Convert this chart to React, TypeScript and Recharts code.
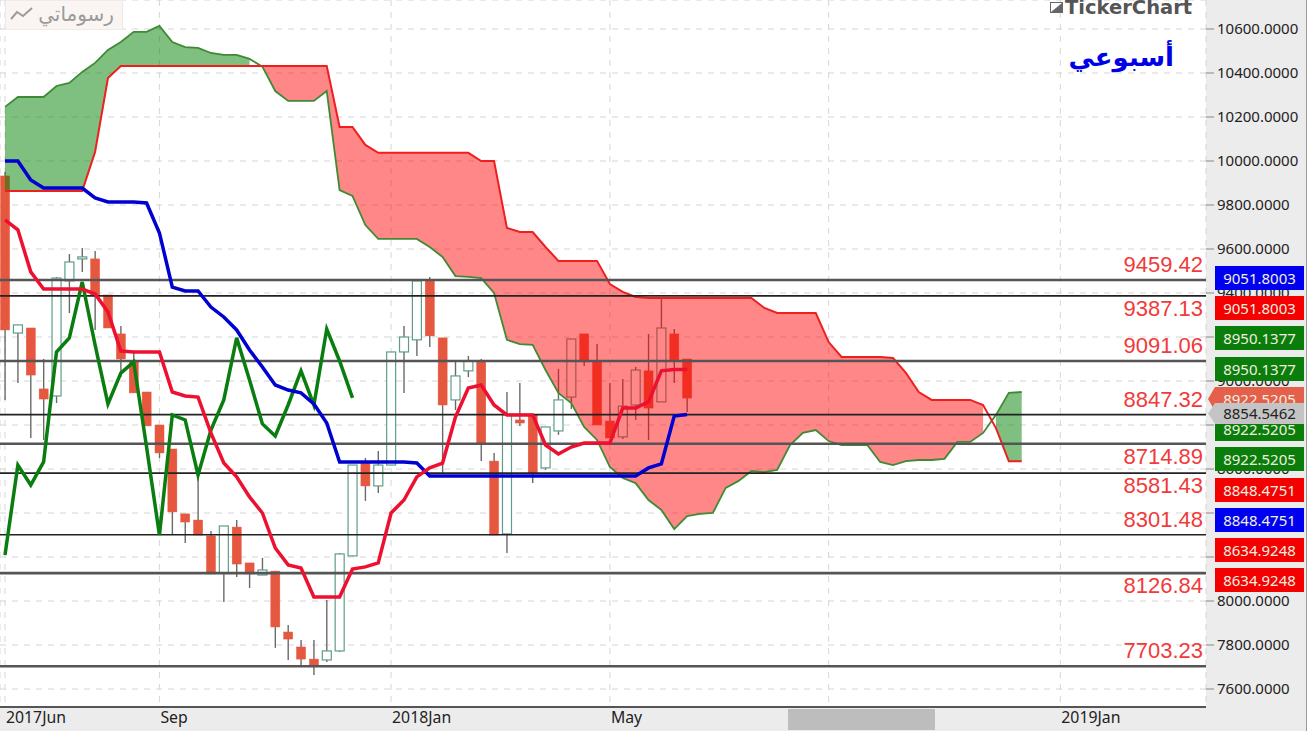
import React from "react";
import {
  ComposedChart, XAxis, YAxis, CartesianGrid, Bar, Area, Line, ReferenceLine,
} from "recharts";

const candleOpen = [9932,9218,9241,8964,8932,9455,9555,9555,9391,9214,9091,8950,8800,8691,8396,8368,8296,8127,8336,8173,8118,8136,7859,7791,7736,7732,7773,8205,8627,8523,8618,9132,9187,9455,9196,8914,9046,9087,8636,8305,8823,8846,8605,8773,8927,9214,9087,8818,8746,8891,9046,8905,9214,9100];
const candleClose = [9232,9255,9027,8918,9468,9541,9564,9391,9241,9100,8946,8796,8673,8405,8359,8300,8123,8341,8168,8123,8141,7882,7827,7736,7709,7773,8214,8618,8523,8618,9132,9200,9455,9205,8891,9023,9091,8718,8300,8846,8809,8582,8791,8914,9191,9087,8800,8741,8886,9050,8877,9241,9096,8922.5];
const candleHigh = [9950,9255,9241,9100,9473,9577,9605,9591,9391,9250,9127,8950,8800,8691,8396,8573,8318,8341,8368,8173,8196,8136,7891,7823,7823,8005,8218,8618,8650,8682,9132,9250,9455,9473,9196,9087,9114,9100,8673,8950,8991,8846,8791,9055,9191,9214,9168,8991,9009,9064,9214,9377,9236,9100];
const candleLow = [8914,8991,8741,8732,8900,9309,9496,9232,9241,9018,8946,8796,8650,8300,8264,8300,8123,7996,8109,8059,8118,7787,7732,7700,7664,7723,7768,8205,8455,8491,8618,8946,9114,9155,8582,8868,9018,8636,8300,8218,8796,8536,8596,8755,8873,9068,8800,8741,8736,8823,8732,8905,8991,8859];

const kijun = [10000,10000,9914,9877,9877,9877,9877,9832,9814,9814,9814,9809,9673,9427,9409,9409,9336,9291,9232,9141,9064,8982,8959,8946,8896,8809,8632,8632,8632,8632,8632,8632,8627,8568,8568,8568,8568,8568,8568,8568,8568,8568,8568,8568,8568,8568,8568,8568,8568,8568,8605,8623,8841,8848];
const tenkan = [9732,9687,9496,9418,9418,9418,9418,9396,9314,9136,9132,9132,9132,8950,8932,8927,8764,8627,8564,8473,8400,8241,8164,8150,8018,8018,8018,8145,8155,8173,8400,8459,8564,8605,8627,8836,8968,8982,8891,8846,8846,8846,8709,8668,8700,8718,8718,8718,8877,8877,8905,9046,9052,9052];
const chikou = [8209,8618,8527,8632,9132,9196,9450,9164,8896,9036,9087,8700,8300,8846,8823,8573,8777,8914,9196,9005,8805,8750,8891,9046,8891,9236,9091,8923];

const spanGreen = [10246,10291,10291,10291,10341,10355,10405,10446,10505,10541,10587,10587,10614,10541,10518,10514,10491,10482,10482,10464,10429,10318,10273,10273,10273,10318,9868,9841,9709,9646,9646,9646,9646,9609,9564,9477,9473,9468,9400,9187,9168,9164,9050,8946,8900,8791,8732,8609,8559,8536,8459,8414,8327,8386,8396,8400,8514,8546,8591,8586,8596,8709,8764,8777,8727,8709,8709,8709,8632,8618,8636,8641,8641,8646,8723,8723,8764,8846,8946,8950];
const spanRed = [9864,9864,9864,9864,9864,9864,9864,10041,10377,10432,10432,10432,10432,10432,10432,10432,10432,10432,10432,10432,10432,10432,10432,10432,10432,10432,10155,10155,10073,10037,10037,10037,10037,10037,10037,10037,10037,10000,10000,9696,9677,9677,9609,9546,9546,9546,9546,9441,9405,9382,9377,9377,9377,9377,9377,9377,9377,9377,9377,9332,9309,9309,9309,9309,9177,9109,9109,9109,9109,9105,9037,8950,8914,8914,8914,8914,8891,8786,8635,8635];

const levels = [9459.42,9387.13,9091.06,8847.32,8714.89,8581.43,8301.48,8126.84,7703.23];
const levelText = ["9459.42","9387.13","9091.06","8847.32","8714.89","8581.43","8301.48","8126.84","7703.23"];
const levelBelow = [false,true,false,false,true,true,false,true,false];
const levelHeavy = [true,false,true,false,true,false,false,true,true];

const yTicks = [7600,7800,8000,8200,8400,8600,8800,9000,9200,9400,9600,9800,10000,10200,10400,10600];
const xTicks = [0,12,30,47,64,82];
const xTickLabels = ["2017Jun","Sep","2018Jan","May","","2019Jan"];

const badgeText = ["9051.8003","9051.8003","8950.1377","8950.1377","8922.5205","8922.5205","8854.5462","8922.5205","8848.4751","8848.4751","8634.9248","8634.9248"];
const badgeTop = [266,296,326,357,387,417,403,447,478,508,538,568];
const badgeColor = ["#0000f0","#f50000","#0a7d0a","#0a7d0a","#e5604a","#0a7d0a","#c4c4c4","#0a7d0a","#f50000","#0000f0","#f50000","#f50000"];

const rows = spanGreen.map((g, i) => {
  const r = spanRed[i];
  const hasCandle = i < candleOpen.length;
  const greenSide = i < 20 || i > 76;
  return {
    i,
    open: hasCandle ? candleOpen[i] : null,
    close: hasCandle ? candleClose[i] : null,
    high: hasCandle ? candleHigh[i] : null,
    low: hasCandle ? candleLow[i] : null,
    range: hasCandle ? [candleLow[i], candleHigh[i]] : null,
    kijun: i < kijun.length ? kijun[i] : null,
    tenkan: i < tenkan.length ? tenkan[i] : null,
    chikou: i < chikou.length ? chikou[i] : null,
    spanGreen: g,
    spanRed: r,
    greenBand: greenSide ? [Math.min(g, r), Math.max(g, r)] : null,
    redBand: !greenSide ? [Math.min(g, r), Math.max(g, r)] : null,
  };
});

const Candle = (props: any) => {
  const { x, y, width, height, payload } = props;
  if (!payload || payload.open == null || !Number.isFinite(y)) return null;
  const k = height / (payload.high - payload.low);
  const top = Math.max(payload.open, payload.close);
  const bottom = Math.min(payload.open, payload.close);
  const yTop = y + (payload.high - top) * k;
  const h = Math.max((top - bottom) * k, 2);
  const up = payload.close >= payload.open;
  const cx = x + width / 2;
  return (
    <g>
      <line x1={cx} x2={cx} y1={y} y2={y + height} stroke="#6a6a6a" strokeWidth={1.4} />
      <rect
        x={x}
        y={yTop}
        width={width}
        height={h}
        fill={up ? "#ffffff" : "#e5583f"}
        stroke={up ? "#5f9d8a" : "#e5583f"}
        strokeWidth={up ? 1.2 : 0.5}
      />
    </g>
  );
};

const levelLabel = (idx: number) => (p: any) => {
  const vb = p.viewBox;
  return (
    <text
      x={vb.x + vb.width - 3}
      y={vb.y + (levelBelow[idx] ? 20 : -8)}
      textAnchor="end"
      fill="#f23a3a"
      fontFamily="Liberation Sans"
      fontSize={22}
    >
      {levelText[idx]}
    </text>
  );
};

const XTick = (p: any) => {
  const idx = xTicks.indexOf(p.payload.value);
  return (
    <text x={p.x + 1} y={p.y + 8} textAnchor="start" fill="#222" fontFamily="Noto Sans" fontSize={15.8}>
      {xTickLabels[idx]}
    </text>
  );
};

const badgeBase: React.CSSProperties = {
  position: "absolute",
  left: 1215,
  width: 89,
  height: 24,
  lineHeight: "24px",
  textAlign: "center",
  fontFamily: "Noto Sans",
  fontSize: 15,
};

export default function App() {
  return (
    <div style={{ position: "absolute", left: 0, top: 0, width: 1309, height: 731, background: "#ececec", overflow: "hidden" }}>
      <ComposedChart
        width={1306}
        height={731}
        data={rows}
        margin={{ top: 0, right: 0, bottom: 0, left: 0 }}
      >
        <CartesianGrid stroke="#d6d6d6" strokeDasharray="6 6" fill="#ffffff" />
        <XAxis
          dataKey="i"
          type="number"
          domain={[-0.3885, 93.32]}
          ticks={xTicks}
          tick={<XTick />}
          height={24}
          tickLine={false}
          interval={0}
          allowDataOverflow
          axisLine={{ stroke: "#555", strokeWidth: 2 }}
        />
        <YAxis
          orientation="right"
          type="number"
          width={100}
          domain={[7518.2, 10731.8]}
          ticks={yTicks}
          allowDataOverflow
          interval={0}
          axisLine={false}
          tickSize={8}
          tickMargin={3}
          tickLine={{ stroke: "#888" }}
          tickFormatter={(v: number) => v.toFixed(4)}
          tick={{ fill: "#222", fontFamily: "Noto Sans", fontSize: 15 }}
        />
        <Bar dataKey="range" barSize={9} shape={<Candle />} isAnimationActive={false} />
        <Area dataKey="greenBand" type="linear" fill="#008000" fillOpacity={0.5} stroke="none" isAnimationActive={false} dot={false} activeDot={false} zIndex={350} />
        <Area dataKey="redBand" type="linear" fill="#ff0000" fillOpacity={0.47} stroke="none" isAnimationActive={false} dot={false} activeDot={false} zIndex={350} />
        <Line dataKey="spanGreen" type="linear" stroke="#3f8a35" strokeWidth={1.8} dot={false} activeDot={false} isAnimationActive={false} />
        <Line dataKey="spanRed" type="linear" stroke="#f01f1f" strokeWidth={2} dot={false} activeDot={false} isAnimationActive={false} />
        {levels.map((v, idx) => (
          <ReferenceLine
            key={v}
            y={v}
            stroke={levelHeavy[idx] ? "#555555" : "#222222"}
            strokeWidth={levelHeavy[idx] ? 2.6 : 1.6}
            label={levelLabel(idx)}
          />
        ))}
        <Line dataKey="chikou" type="linear" stroke="#0a7d10" strokeWidth={3.5} dot={false} activeDot={false} isAnimationActive={false} />
        <Line dataKey="kijun" type="linear" stroke="#0000d0" strokeWidth={3.5} dot={false} activeDot={false} isAnimationActive={false} />
        <Line dataKey="tenkan" type="linear" stroke="#ee1030" strokeWidth={3.5} dot={false} activeDot={false} isAnimationActive={false} />
      </ComposedChart>

      {badgeText.map((t, idx) => {
        const arrow = idx === 4 || idx === 6;
        return (
          <div
            key={idx}
            style={{
              ...badgeBase,
              top: badgeTop[idx],
              left: arrow ? 1208 : 1215,
              width: arrow ? 96 : 89,
              paddingLeft: arrow ? 7 : 0,
              boxSizing: "border-box",
              height: idx === 6 ? 21 : 24,
              lineHeight: idx === 6 ? "21px" : "24px",
              background: badgeColor[idx],
              color: idx === 6 ? "#222" : "#f0f0e0",
              clipPath: arrow ? "polygon(0 50%, 7px 0, 100% 0, 100% 100%, 7px 100%)" : undefined,
            }}
          >
            {t}
          </div>
        );
      })}

      <div style={{ position: "absolute", left: 788, top: 709, width: 147, height: 21, background: "#bdbdbd" }} />
      <div style={{ position: "absolute", left: 1306, top: 0, width: 1, height: 731, background: "#9a9a9a" }} />
      <div style={{ position: "absolute", left: 1306 + 1, top: 0, width: 2, height: 731, background: "#ffffff" }} />

      <div style={{ position: "absolute", left: 5, top: 0, width: 118, height: 30, background: "#faf5f2", border: "1px solid #f0ebe8", boxSizing: "border-box" }}>
        <svg width={26} height={20} style={{ position: "absolute", left: 3, top: 3 }}>
          <polyline points="2,15 8,8 14,12 23,4" fill="none" stroke="#9b9b9b" strokeWidth={2} />
        </svg>
        <div dir="rtl" style={{ position: "absolute", right: 8, top: 0, lineHeight: "26px", fontFamily: "DejaVu Sans", fontSize: 20, color: "#9a9a9a" }}>رسوماتي</div>
      </div>

      <svg width={14} height={12} style={{ position: "absolute", left: 1050, top: 2 }}>
        <rect x={0.5} y={0.5} width={12} height={10} fill="#fff" stroke="#666" />
        <polygon points="1,10 12,1 12,10" fill="#666" />
      </svg>
      <div style={{ position: "absolute", left: 1065, top: -2, lineHeight: "20px", fontFamily: "DejaVu Sans", fontWeight: 700, fontSize: 19.5, color: "#555" }}>TickerChart</div>

      <div dir="rtl" style={{ position: "absolute", left: 1050, width: 124, top: 34, lineHeight: "46px", textAlign: "right", fontFamily: "DejaVu Sans", fontWeight: 700, fontSize: 26, color: "#0000e6" }}>أسبوعي</div>
    </div>
  );
}
